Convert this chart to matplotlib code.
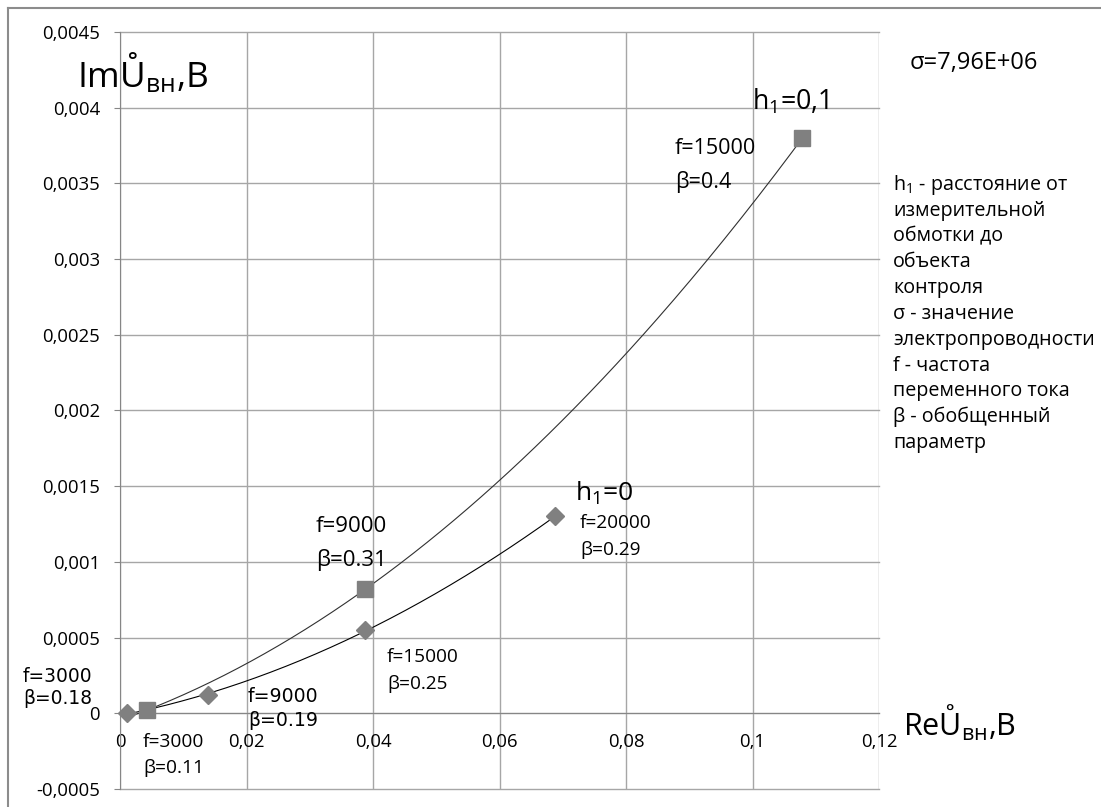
import numpy as np
import matplotlib
matplotlib.use("Agg")
import matplotlib.pyplot as plt
from matplotlib.lines import Line2D

plt.rcParams['font.family'] = ['Open Sans', 'DejaVu Sans']
plt.rcParams['mathtext.default'] = 'regular'

W, H = 1101, 807

# h1 = 0 series (diamonds)
re_h0 = [0.0011, 0.0139, 0.0388, 0.0688]
im_h0 = [0.0, 0.00012, 0.00055, 0.0013]
# h1 = 0,1 series (squares)
re_h1 = [0.0042, 0.0388, 0.1079]
im_h1 = [0.00002, 0.00082, 0.0038]

x_ticks = [0, 0.02, 0.04, 0.06, 0.08, 0.1, 0.12]
x_tick_labels = ['0', '0,02', '0,04', '0,06', '0,08', '0,1', '0,12']
y_ticks = [-0.0005, 0, 0.0005, 0.001, 0.0015, 0.002, 0.0025, 0.003, 0.0035, 0.004, 0.0045]
y_tick_labels = ['-0,0005', '0', '0,0005', '0,001', '0,0015', '0,002', '0,0025',
                 '0,003', '0,0035', '0,004', '0,0045']

legend_lines = ['h$_1$ - расстояние от', 'измерительной', 'обмотки до', 'объекта',
                'контроля', 'σ - значение', 'электропроводности', 'f - частота',
                'переменного тока', 'β - обобщенный', 'параметр']


def px(x, y):
    return x / W, 1 - y / H


fig = plt.figure(figsize=(W / 100, H / 100), dpi=100)
l, t = px(120, 32)
r, b = px(879, 789)
ax = fig.add_axes([l, b, r - l, t - b])

ax.set_xlim(0, 0.12)
ax.set_ylim(-0.0005, 0.0045)
ax.set_xticks(x_ticks)
ax.set_xticklabels(x_tick_labels)
ax.set_yticks(y_ticks)
ax.set_yticklabels(y_tick_labels)
ax.grid(True, color='#a6a6a6', lw=1.0)
for gl in ax.get_xgridlines() + ax.get_ygridlines():
    gl.set_clip_on(False)
for s in ['top', 'right']:
    ax.spines[s].set_visible(False)
ax.spines['bottom'].set_position(('data', 0))
ax.spines['bottom'].set_color('#868686')
ax.spines['left'].set_color('#868686')
ax.tick_params(axis='y', length=4.3, color='#868686', labelsize=13.3, pad=10)
ax.tick_params(axis='x', length=0, labelsize=13.3, pad=14)

# second-order trend lines through each series
xx0 = np.linspace(0.0015, max(re_h0), 200)
ax.plot(xx0, np.polyval(np.polyfit(re_h0, im_h0, 2), xx0), color='black', lw=0.8, zorder=3)
xx1 = np.linspace(0.0015, max(re_h1), 200)
ax.plot(xx1, np.polyval(np.polyfit(re_h1, im_h1, 2), xx1), color='#303030', lw=0.8, zorder=3)

ax.plot(re_h0, im_h0, 'D', color='#808080', ms=9, mec='#808080', zorder=4, clip_on=False)
ax.plot(re_h1, im_h1, 's', color='#808080', ms=11, mec='#808080', zorder=4, clip_on=False)

# point labels
labels = [
    (675, 148, 182, 'f=15000', 'β=0.4', 15.5, None),
    (316, 527, 560, 'f=9000', 'β=0.31', 16, None),
    (580, 523, 550, 'f=20000', 'β=0.29', 13.7, None),
    (387, 657, 684, 'f=15000', 'β=0.25', 13.7, None),
    (23, 676, 699, 'f=3000', 'β=0.18', 13.4, 'DejaVu Sans'),
    (248, 696, 721, 'f=9000', 'β=0.19', 13.6, 'DejaVu Sans'),
    (143, 742, 768, 'f=3000', 'β=0.11', 13.8, None),
]
for x, y1, y2, s1, s2, size, fam in labels:
    kw = dict(fontsize=size, va='center', ha='left')
    if fam:
        kw['family'] = [fam]
    fig.text(*px(x, y1), s1, **kw)
    fig.text(*px(x, y2), s2, **kw)

fig.text(*px(752, 102), 'h$_1$=0,1', fontsize=19.3, va='center', ha='left')
fig.text(*px(575, 493), 'h$_1$=0', fontsize=19, va='center', ha='left')
fig.text(*px(910, 63), 'σ=7,96E+06', fontsize=17, va='center', ha='left')

fig.text(*px(77, 73), 'ImŮ$_{вн}$,B', fontsize=25.4, va='center', ha='left')
fig.text(*px(903, 723), 'ReŮ$_{вн}$,B', fontsize=22, va='center', ha='left')

for i, line in enumerate(legend_lines):
    fig.text(*px(893, 185 + i * 25.8), line, fontsize=14.2, va='center', ha='left')

# chart area frame
fig.add_artist(Line2D([8 / W, 8 / W], [0, 1 - 8 / H], color='#8c8c8c', lw=1.5))
fig.add_artist(Line2D([8 / W, 1], [1 - 8 / H, 1 - 8 / H], color='#8c8c8c', lw=1.5))

fig.savefig('out.png', dpi=100)
